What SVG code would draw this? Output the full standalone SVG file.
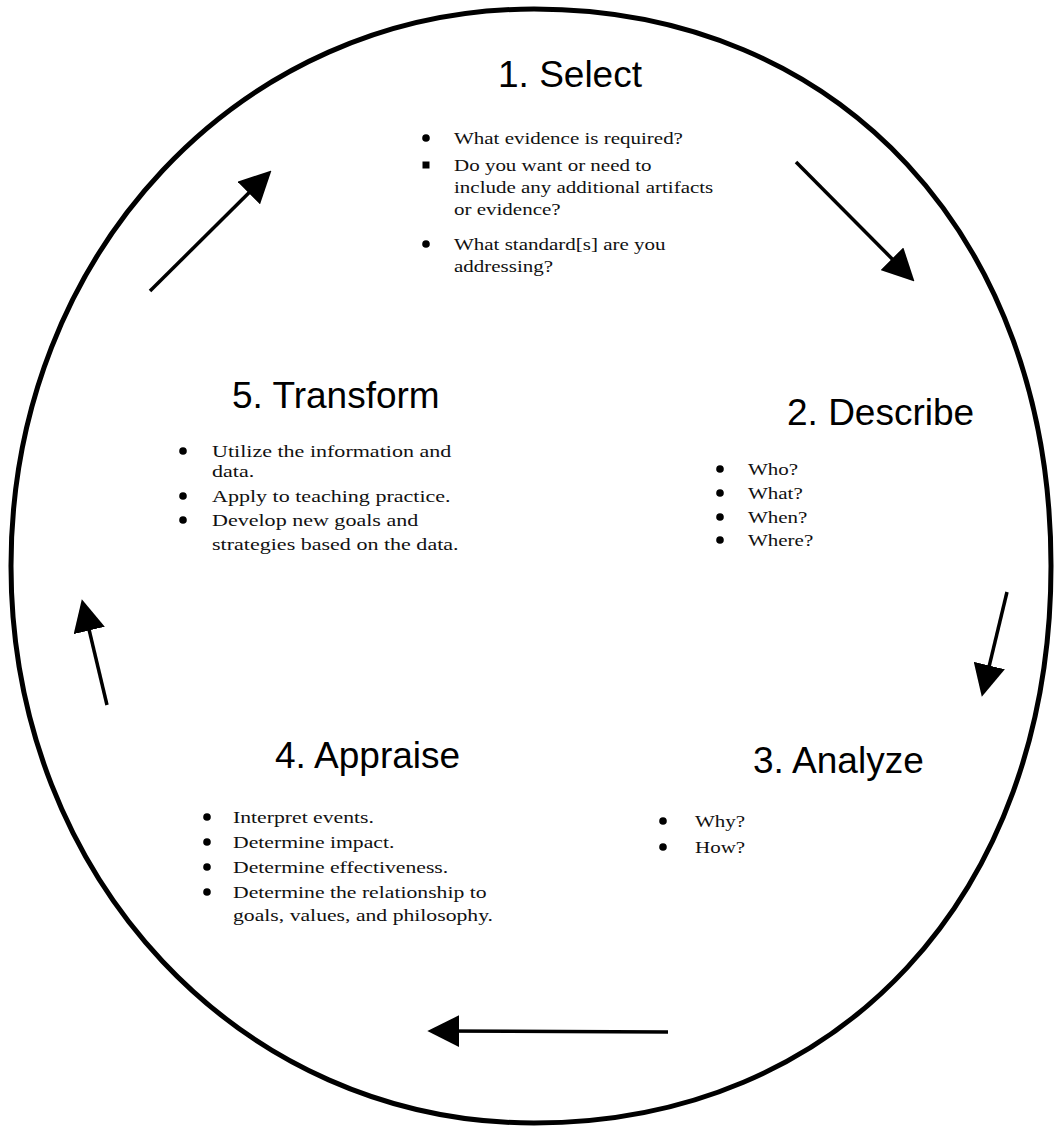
<svg xmlns="http://www.w3.org/2000/svg" width="1055" height="1127" viewBox="0 0 1055 1127">
<style>
.h{font-family:"Liberation Sans",Arial,sans-serif;font-size:37px;fill:#000}
.b{font-family:"Liberation Serif","Times New Roman",serif;font-size:17.5px;fill:#111}
.dot{fill:#000}
.ring{fill:none;stroke:#000;stroke-width:5}
.arr{fill:none;stroke:#000;stroke-width:3.5;marker-end:url(#ah)}
</style>
<defs>
<marker id="ah" markerUnits="userSpaceOnUse" markerWidth="32" markerHeight="32" viewBox="0 0 30 30" refX="20" refY="15" orient="auto">
<path d="M0,0 L30,15 L0,30 z" fill="#000"/>
</marker>
</defs>
<rect width="1055" height="1127" fill="#fff"/>
<path class="ring" d="M534,9 C839,9 1051,237 1051,566 C1051,895 839,1123 534,1123 C241,1123 11,878 11,566 C11,254 241,9 534,9 z"/>

<g id="connectors">
<line class="arr" x1="150" y1="291" x2="263.9" y2="178"/>
<line class="arr" x1="796" y1="162" x2="907" y2="273.9"/>
<line class="arr" x1="1007" y1="592" x2="984.3" y2="686.3"/>
<line class="arr" x1="668" y1="1032" x2="438" y2="1031"/>
<line class="arr" x1="107" y1="705" x2="84.3" y2="609.7"/>
</g>

<g id="node-select">
<text class="h" x="498" y="87">1. Select</text>
<circle class="dot" cx="426" cy="138" r="3.8"/>
<rect class="dot" x="422.5" y="161.5" width="7" height="7"/>
<circle class="dot" cx="426" cy="244" r="3.8"/>
<g transform="translate(454,0) scale(1.2,1)">
<text class="b" x="0" y="144">What evidence is required?</text>
<text class="b" x="0" y="171">Do you want or need to</text>
<text class="b" x="0" y="193">include any additional artifacts</text>
<text class="b" x="0" y="215">or evidence?</text>
<text class="b" x="0" y="250">What standard[s] are you</text>
<text class="b" x="0" y="272">addressing?</text>
</g>
</g>

<g id="node-describe">
<text class="h" x="787" y="425">2. Describe</text>
<circle class="dot" cx="720" cy="469" r="3.8"/>
<circle class="dot" cx="720" cy="493" r="3.8"/>
<circle class="dot" cx="720" cy="517" r="3.8"/>
<circle class="dot" cx="720" cy="540" r="3.8"/>
<g transform="translate(748,0) scale(1.2,1)">
<text class="b" x="0" y="475">Who?</text>
<text class="b" x="0" y="499">What?</text>
<text class="b" x="0" y="523">When?</text>
<text class="b" x="0" y="546">Where?</text>
</g>
</g>

<g id="node-analyze">
<text class="h" x="753" y="773">3. Analyze</text>
<circle class="dot" cx="663" cy="821" r="3.8"/>
<circle class="dot" cx="663" cy="847" r="3.8"/>
<g transform="translate(695,0) scale(1.2,1)">
<text class="b" x="0" y="827">Why?</text>
<text class="b" x="0" y="853">How?</text>
</g>
</g>

<g id="node-appraise">
<text class="h" x="275" y="768">4. Appraise</text>
<circle class="dot" cx="207" cy="817" r="3.8"/>
<circle class="dot" cx="207" cy="842" r="3.8"/>
<circle class="dot" cx="207" cy="867" r="3.8"/>
<circle class="dot" cx="207" cy="892" r="3.8"/>
<g transform="translate(233,0) scale(1.24,1)">
<text class="b" x="0" y="823">Interpret events.</text>
<text class="b" x="0" y="848">Determine impact.</text>
<text class="b" x="0" y="873">Determine effectiveness.</text>
<text class="b" x="0" y="898">Determine the relationship to</text>
<text class="b" x="0" y="921">goals, values, and philosophy.</text>
</g>
</g>

<g id="node-transform">
<text class="h" x="232" y="408">5. Transform</text>
<circle class="dot" cx="183" cy="451" r="3.8"/>
<circle class="dot" cx="183" cy="496" r="3.8"/>
<circle class="dot" cx="183" cy="520" r="3.8"/>
<g transform="translate(212,0) scale(1.26,1)">
<text class="b" x="0" y="457">Utilize the information and</text>
<text class="b" x="0" y="477">data.</text>
<text class="b" x="0" y="502">Apply to teaching practice.</text>
<text class="b" x="0" y="526">Develop new goals and</text>
<text class="b" x="0" y="550">strategies based on the data.</text>
</g>
</g>
</svg>
